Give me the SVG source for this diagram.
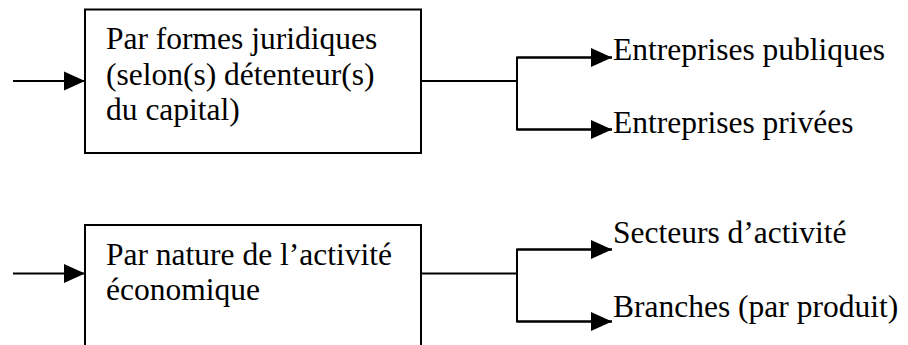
<svg xmlns="http://www.w3.org/2000/svg" width="908" height="345" viewBox="0 0 908 345">
<style>
.t{font-family:'Liberation Serif','Times New Roman',Times,serif;font-size:31.5px;fill:#000}
.box{fill:#fff;stroke:#000;stroke-width:2}
.ln{fill:none;stroke:#000;stroke-width:2}
</style>
<defs>
<marker id="ah" markerUnits="userSpaceOnUse" markerWidth="22" markerHeight="20" refX="21" refY="10" orient="auto" viewBox="0 0 22 20">
<path d="M0,0.5 L21,10 L0,19.5 Z" fill="#000"/>
</marker>
</defs>
<g id="connectors">
<line class="ln" x1="13" y1="81" x2="85" y2="81" marker-end="url(#ah)"/>
<polyline class="ln" points="421,81 517,81"/>
<polyline class="ln" points="612,57.5 517,57.5 517,129.5 612,129.5"/>
<line class="ln" x1="517" y1="57.5" x2="612" y2="57.5" marker-end="url(#ah)"/>
<line class="ln" x1="517" y1="129.5" x2="612" y2="129.5" marker-end="url(#ah)"/>
<line class="ln" x1="13" y1="273.5" x2="85" y2="273.5" marker-end="url(#ah)"/>
<polyline class="ln" points="421,273.5 517,273.5"/>
<polyline class="ln" points="612,249.5 517,249.5 517,321.5 612,321.5"/>
<line class="ln" x1="517" y1="249.5" x2="612" y2="249.5" marker-end="url(#ah)"/>
<line class="ln" x1="517" y1="321.5" x2="612" y2="321.5" marker-end="url(#ah)"/>
</g>
<g id="node-formes">
<rect class="box" x="85" y="9.5" width="336" height="143.5"/>
<text class="t" font-family="Liberation Serif, serif" x="106" y="49">Par formes juridiques</text>
<text class="t" font-family="Liberation Serif, serif" x="106" y="84.5">(selon(s) détenteur(s)</text>
<text class="t" font-family="Liberation Serif, serif" x="106" y="120">du capital)</text>
</g>
<g id="node-nature">
<rect class="box" x="85" y="225" width="336" height="130"/>
<text class="t" font-family="Liberation Serif, serif" x="106" y="264.5">Par nature de l’activité</text>
<text class="t" font-family="Liberation Serif, serif" x="106" y="299.5">économique</text>
</g>
<g id="node-publiques"><text class="t" font-family="Liberation Serif, serif" x="613" y="60">Entreprises publiques</text></g>
<g id="node-privees"><text class="t" font-family="Liberation Serif, serif" x="613" y="133">Entreprises privées</text></g>
<g id="node-secteurs"><text class="t" font-family="Liberation Serif, serif" x="613" y="243">Secteurs d’activité</text></g>
<g id="node-branches"><text class="t" font-family="Liberation Serif, serif" x="613" y="317">Branches (par produit)</text></g>
</svg>
